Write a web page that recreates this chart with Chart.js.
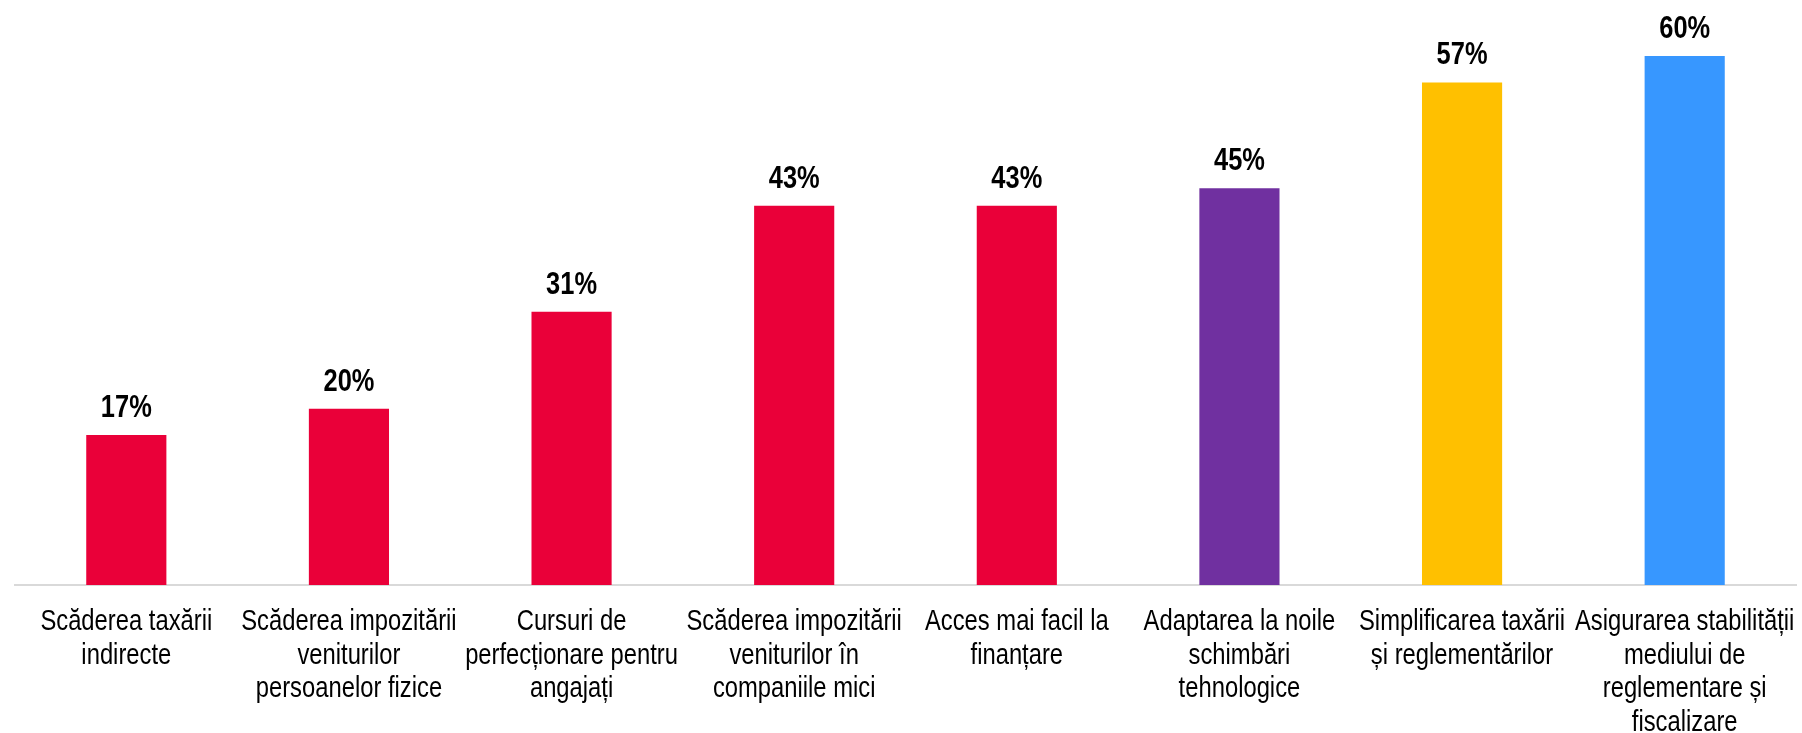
<!DOCTYPE html>
<html>
<head>
<meta charset="utf-8">
<script src="https://cdn.jsdelivr.net/npm/chart.js@4"></script>
<style>
  html, body { margin: 0; padding: 0; background: #fff; }
  #wrap { width: 1802px; height: 733px; }
</style>
</head>
<body>
<div id="wrap"><canvas id="measuresChart"></canvas></div>
<script>
/* data */
const categoryLabels = [
    ["Scăderea taxării", "indirecte"],
    ["Scăderea impozitării", "veniturilor", "persoanelor fizice"],
    ["Cursuri de", "perfecționare pentru", "angajați"],
    ["Scăderea impozitării", "veniturilor în", "companiile mici"],
    ["Acces mai facil la", "finanțare"],
    ["Adaptarea la noile", "schimbări", "tehnologice"],
    ["Simplificarea taxării", "și reglementărilor"],
    ["Asigurarea stabilității", "mediului de", "reglementare și", "fiscalizare"]
];
const shareValues = [17, 20, 31, 43, 43, 45, 57, 60];
const barColors = ["#EA0039", "#EA0039", "#EA0039", "#EA0039", "#EA0039", "#7030A0", "#FFC000", "#3797FF"];

// Arial Narrow look: Liberation Sans squeezed horizontally
const baseFont = "'Liberation Sans', Arial, sans-serif";
const narrowFactor = 0.82;

function drawNarrowText(ctx, text, x, y) {
    ctx.save();
    ctx.translate(x, y);
    ctx.scale(narrowFactor, 1);
    ctx.fillText(text, 0, 0);
    ctx.restore();
}

/* value labels over bars + category labels under axis */
const narrowLabelsPlugin = {
    id: "narrowLabels",
    afterDatasetsDraw(chart) {
        const ctx = chart.ctx;
        const meta = chart.getDatasetMeta(0);
        ctx.save();
        ctx.font = `bold 31px ${baseFont}`;
        ctx.fillStyle = "#000";
        ctx.textAlign = "center";
        ctx.textBaseline = "alphabetic";
        meta.data.forEach((bar, i) => {
            drawNarrowText(ctx, `${shareValues[i]}%`, bar.x, bar.y - 18);
        });
        ctx.restore();
    },
    afterDraw(chart) {
        const ctx = chart.ctx;
        const xScale = chart.scales.x;
        ctx.save();
        ctx.font = `29px ${baseFont}`;
        ctx.fillStyle = "#000";
        ctx.textAlign = "center";
        ctx.textBaseline = "alphabetic";
        chart.data.labels.forEach((lines, i) => {
            const x = xScale.getPixelForTick(i);
            lines.forEach((line, j) => {
                drawNarrowText(ctx, line, x, xScale.top + 45 + j * 33.5);
            });
        });
        ctx.restore();
    }
};

const measuresChartCanvas = document.querySelector("#measuresChart");

const measuresChart = new Chart(measuresChartCanvas, {
    type: "bar",
    data: {
        labels: categoryLabels,
        datasets: [
            {
                data: shareValues,
                backgroundColor: barColors,
                borderWidth: 0,
                categoryPercentage: 1,
                barPercentage: 0.36
            }
        ]
    },
    options: {
        responsive: true,
        maintainAspectRatio: false,
        animation: false,
        layout: {
            padding: { left: 15, right: 6, top: 0, bottom: 0 }
        },
        plugins: {
            legend: { display: false },
            tooltip: { enabled: false }
        },
        scales: {
            x: {
                grid: { display: false },
                border: { display: true, color: "#D9D9D9", width: 2 },
                ticks: { display: false },
                afterFit(scale) {
                    scale.height = 148;
                }
            },
            y: {
                display: false,
                min: 0,
                max: 66.35
            }
        }
    },
    plugins: [narrowLabelsPlugin]
});
</script>
</body>
</html>
